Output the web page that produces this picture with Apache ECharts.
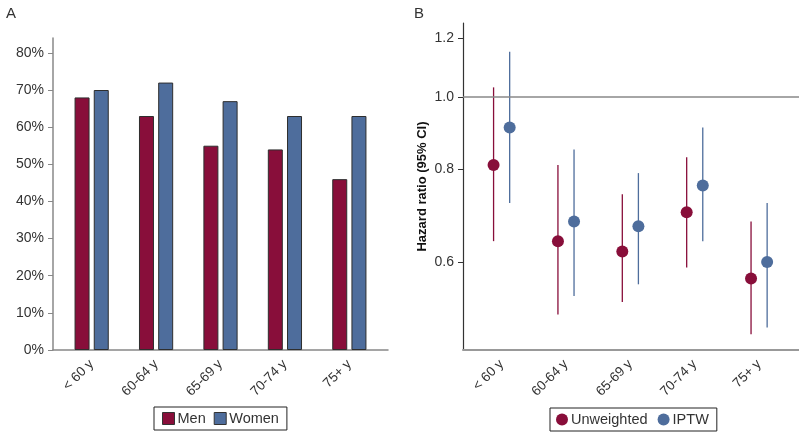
<!DOCTYPE html>
<html>
<head>
<meta charset="utf-8">
<script src="https://cdn.jsdelivr.net/npm/echarts@6/dist/echarts.min.js"></script>
<style>
  html, body { margin: 0; padding: 0; background: #fff; }
  #chart { width: 799px; height: 433px; }
</style>
</head>
<body>
<div id="chart"></div>
<script>
// Age groups, shared by both panels
var ageGroups = ['< 60 y', '60-64 y', '65-69 y', '70-74 y', '75+ y'];

// Panel A: share (%)
var menPct = [68, 63, 55, 54, 46];
var womenPct = [70, 72, 67, 63, 63];
var pctTicks = [0, 10, 20, 30, 40, 50, 60, 70, 80];

// Panel B: hazard ratio with 95% CI
var unwHR = [0.81, 0.64, 0.62, 0.70, 0.57];
var unwLo = [0.64, 0.51, 0.53, 0.59, 0.48];
var unwHi = [1.03, 0.81, 0.74, 0.83, 0.68];
var iptwHR = [0.91, 0.68, 0.67, 0.76, 0.60];
var iptwLo = [0.72, 0.54, 0.56, 0.64, 0.49];
var iptwHi = [1.15, 0.85, 0.79, 0.91, 0.72];
var hrTicks = [0.6, 0.8, 1.0, 1.2];

(function () {
  var red = '#880e3a';
  var blue = '#4e6d9c';
  var ink = '#333';
  var font = 'Liberation Sans, Arial, sans-serif';

  var chart = echarts.init(document.getElementById('chart'), null, { renderer: 'canvas' });

  function idx(arr) { return arr.map(function (v, i) { return i; }); }
  function catLabel(v) { return ageGroups[Math.round(v)] || ''; }
  var ln = Math.log;

  // whiskers drawn through the axis scales
  function whisker(color, off, lo, hi) {
    return {
      type: 'custom',
      xAxisIndex: 1, yAxisIndex: 1,
      silent: true,
      z: 2,
      data: lo.map(function (v, i) { return [i + off, ln(v), ln(hi[i])]; }),
      renderItem: function (params, api) {
        var a = api.coord([api.value(0), api.value(1)]);
        var b = api.coord([api.value(0), api.value(2)]);
        return {
          type: 'line',
          shape: { x1: a[0], y1: a[1], x2: b[0], y2: b[1] },
          style: { stroke: color, lineWidth: 1.3 }
        };
      }
    };
  }

  var xLabelStyle = {
    color: ink, fontSize: 13.5, fontFamily: font,
    rotate: 45, margin: 12,
    customValues: idx(ageGroups),
    formatter: catLabel
  };

  chart.setOption({
    animation: false,
    textStyle: { fontFamily: font },
    title: [
      { text: 'A', left: 1, top: 1, textStyle: { fontSize: 15, fontWeight: 'normal', color: ink } },
      { text: 'B', left: 409, top: 1, textStyle: { fontSize: 15, fontWeight: 'normal', color: ink } }
    ],
    grid: [
      { left: 53, right: 411, top: 38, bottom: 83 },
      { left: 463, right: 0, top: 23, bottom: 83 }
    ],
    legend: [
      {
        data: ['Men', 'Women'],
        left: 154, top: 407,
        padding: [4, 8, 4, 8], itemGap: 8,
        borderColor: '#222', borderWidth: 1,
        itemWidth: 12, itemHeight: 12,
        icon: 'rect',
        itemStyle: { borderColor: '#333', borderWidth: 1 },
        textStyle: { fontSize: 14.5, color: ink, padding: [0, 0, 0, -2] }
      },
      {
        data: ['Unweighted', 'IPTW'],
        left: 550, top: 408,
        padding: [4, 8, 4, 6], itemGap: 10,
        borderColor: '#222', borderWidth: 1,
        itemWidth: 12, itemHeight: 12,
        icon: 'circle',
        textStyle: { fontSize: 14.5, color: ink, padding: [0, 0, 0, -2] }
      }
    ],
    xAxis: [
      {
        gridIndex: 0, type: 'value', min: -0.6, max: 4.6,
        splitLine: { show: false },
        axisLine: { onZero: false, lineStyle: { color: '#888', width: 1.5 } },
        axisTick: { show: false },
        axisLabel: xLabelStyle
      },
      {
        gridIndex: 1, type: 'value', min: -0.6, max: 4.62,
        splitLine: { show: false },
        axisLine: { onZero: false, lineStyle: { color: '#999', width: 2 } },
        axisTick: { show: false },
        axisLabel: xLabelStyle
      }
    ],
    yAxis: [
      {
        gridIndex: 0, type: 'value', min: 0, max: 84,
        splitLine: { show: false },
        axisLine: { show: true, onZero: false, lineStyle: { color: '#888', width: 1.5 } },
        axisTick: { show: true, length: 5, lineStyle: { color: '#888' }, customValues: pctTicks },
        axisLabel: {
          color: ink, fontSize: 14, margin: 9,
          customValues: pctTicks,
          formatter: function (v) { return v + '%'; }
        }
      },
      {
        gridIndex: 1, type: 'value', min: ln(0.457), max: ln(1.257),
        name: 'Hazard ratio (95% CI)',
        nameLocation: 'middle', nameGap: 34,
        nameTextStyle: { fontSize: 13, fontWeight: 'bold', color: '#111' },
        splitLine: { show: false },
        axisLine: { show: true, onZero: false, lineStyle: { color: '#333', width: 1.2 } },
        axisTick: { show: true, length: 5, lineStyle: { color: '#333' }, customValues: hrTicks.map(ln) },
        axisLabel: {
          color: ink, fontSize: 14, margin: 9,
          customValues: hrTicks.map(ln),
          formatter: function (v) { return Math.exp(v).toFixed(1); }
        }
      }
    ],
    series: [
      {
        name: 'Men', type: 'bar', xAxisIndex: 0, yAxisIndex: 0,
        barWidth: 15, barGap: '28%',
        itemStyle: { color: red, borderColor: '#2e2e2e', borderWidth: 1 },
        data: menPct.map(function (v, i) { return [i, v]; })
      },
      {
        name: 'Women', type: 'bar', xAxisIndex: 0, yAxisIndex: 0,
        barWidth: 15, barGap: '28%',
        itemStyle: { color: blue, borderColor: '#2e2e2e', borderWidth: 1 },
        data: womenPct.map(function (v, i) { return [i, v]; })
      },
      whisker(red, -0.125, unwLo, unwHi),
      whisker(blue, 0.125, iptwLo, iptwHi),
      {
        name: 'Unweighted', type: 'scatter', xAxisIndex: 1, yAxisIndex: 1,
        symbolSize: 12, z: 3,
        itemStyle: { color: red, opacity: 1 },
        data: unwHR.map(function (v, i) { return [i - 0.125, ln(v)]; }),
        markLine: {
          silent: true, symbol: 'none', label: { show: false },
          lineStyle: { color: '#888', width: 1.5, type: 'solid' },
          data: [{ yAxis: 0 }]
        }
      },
      {
        name: 'IPTW', type: 'scatter', xAxisIndex: 1, yAxisIndex: 1,
        symbolSize: 12, z: 3,
        itemStyle: { color: blue, opacity: 1 },
        data: iptwHR.map(function (v, i) { return [i + 0.125, ln(v)]; })
      }
    ]
  });
  window.addEventListener('resize', function () { chart.resize(); });
})();
</script>
</body>
</html>
